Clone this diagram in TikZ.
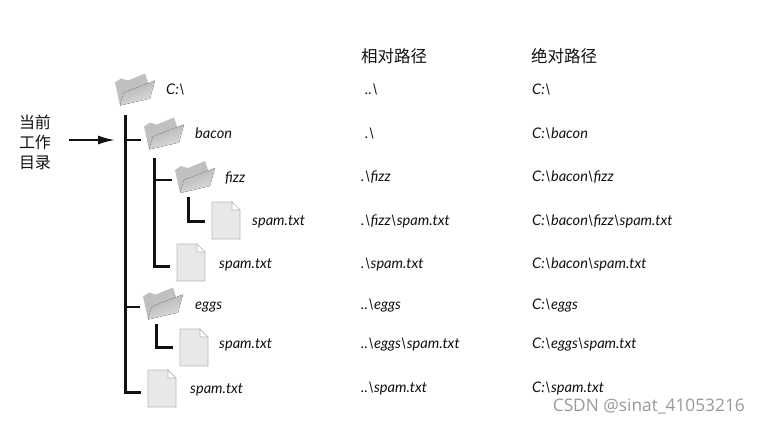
\documentclass[tikz,border=0pt]{standalone}
\usepackage{fontspec}
\usepackage{tikz}
\usetikzlibrary{arrows.meta,positioning}
\setmainfont{Lato}
\newfontfamily\cjk{Noto Sans CJK SC}
\newfontfamily\markfont{Open Sans}
\definecolor{ink}{HTML}{111111}
\definecolor{folderdark}{HTML}{B0B0B0}
\definecolor{folderback}{HTML}{C0C0C0}
\definecolor{folderlight}{HTML}{E0E0E0}
\definecolor{filefill}{HTML}{E8E8E8}
\definecolor{fileedge}{HTML}{B8B8B8}
\newcommand{\bs}{\textbackslash}

\begin{document}
\begin{tikzpicture}[
  x=1pt,y=-1pt,
  dirbox/.style={minimum width=46pt,minimum height=30pt,inner sep=0pt},
  docbox/.style={minimum width=42pt,minimum height=30pt,inner sep=0pt},
  tree/.style={ink,line width=3pt},
  twig/.style={ink,line width=2.4pt},
  lab/.style={font=\fontsize{14.6}{16}\selectfont\itshape,ink,anchor=west,inner sep=0pt,
              text height=10pt,text depth=3pt,yshift=-2pt},
  head/.style={font=\cjk\fontsize{16.5}{20}\selectfont,ink,anchor=west,inner sep=0pt},
  foldericon/.pic={
    \fill[folderback] (-20,-7)--(-14,-11)--(-7,-9)--(10,-16)--(13,-7)--(15,9)--(-15,16)--cycle;
    \fill[left color=folderdark,right color=folderlight,shading angle=20]
      (-11,3)--(20,-9)--(15,9)--(-15,16)--cycle;
  },
  fileicon/.pic={
    \draw[fileedge,fill=filefill,line width=.7pt]
      (-14,-18.5)--(6,-18.5)--(14,-10.5)--(14,18.5)--(-14,18.5)--cycle;
    \draw[fileedge,fill=white,line width=.7pt] (6,-18.5)--(6,-10.5)--(14,-10.5)--cycle;
  }
]
\useasboundingbox (0,0) rectangle (760,424);
% folders and files: name/x/y of the icon/y of the branch
\foreach \n/\x/\y/\b in {root/135/89.5/89.5,bacon/164/133.5/140,fizz/195/177/180,eggs/163/303.5/307}{
  \pic at (\x,\y) {foldericon};
  \node[dirbox] (\n) at (\x,\b) {};
}
\foreach \n/\x/\y/\b in {fizzspam/226/220.5/221,baconspam/191/262.5/266,eggsspam/194/347.5/347,rootspam/162/388.5/392}{
  \pic at (\x,\y) {fileicon};
  \node[docbox] (\n) at (\x,\b) {};
}
% tree
\coordinate (trunk) at (125,115);
\coordinate (baconline) at (154,158);
\coordinate (fizzline) at (188,197);
\coordinate (eggsline) at (156,324);
\draw[tree] (trunk) |- (rootspam.west);
\draw[twig] (trunk |- bacon.west) -- (bacon.west);
\draw[twig] (trunk |- eggs.west) -- (eggs.west);
\draw[tree] (baconline) |- (baconspam.west);
\draw[twig] (baconline |- fizz.west) -- (fizz.west);
\draw[tree] (fizzline) |- (fizzspam.west);
\draw[tree] (eggsline) |- (eggsspam.west);
% current dir
\node[font=\cjk\fontsize{16}{20}\selectfont,ink,align=center,inner ysep=0pt,inner xsep=18pt] (cwd) at (35,142)
  {当前\\工作\\目录};
\coordinate (cwdend) at (115,140);
\draw[ink,line width=2pt,-{Latex[length=17pt,width=9pt]}] (cwd.east |- cwdend) -- (cwdend);
% names in the tree
\foreach \n/\x/\y/\t in {rootname/166/89/C:\bs,baconname/195/133/bacon,fizzname/225/177/fizz,
    spamone/252/220/spam.txt,spamtwo/219/263/spam.txt,eggsname/195/304/eggs,
    spamthree/219/343/spam.txt,spamfour/190/388/spam.txt}{
  \node[lab] (\n) at (\x,\y) {\t};
}
% columns
\node[head] (relhead) at (361,56) {相对路径};
\node[head] (abshead) at (531,56) {绝对路径};
\foreach \n/\x/\y/\r/\a in {a/365/89/..\bs/C:\bs,b/365/133/.\bs/C:\bs bacon,
    c/361/176/.\bs fizz/C:\bs bacon\bs fizz,
    d/361/220/.\bs fizz\bs spam.txt/C:\bs bacon\bs fizz\bs spam.txt,
    e/361/263/.\bs spam.txt/C:\bs bacon\bs spam.txt,
    f/361/304/..\bs eggs/C:\bs eggs,
    g/361/343/..\bs eggs\bs spam.txt/C:\bs eggs\bs spam.txt,
    h/361/387/..\bs spam.txt/C:\bs spam.txt}{
  \node[lab] (rel\n) at (\x,\y) {\r};
  \node[lab] (abs\n) at (532,\y) {\a};
}
\node[font=\markfont\fontsize{17.3}{20}\selectfont,black!40,anchor=east,inner sep=0pt] (mark) at (745,406) {CSDN @sinat\_41053216};
\end{tikzpicture}
\end{document}
